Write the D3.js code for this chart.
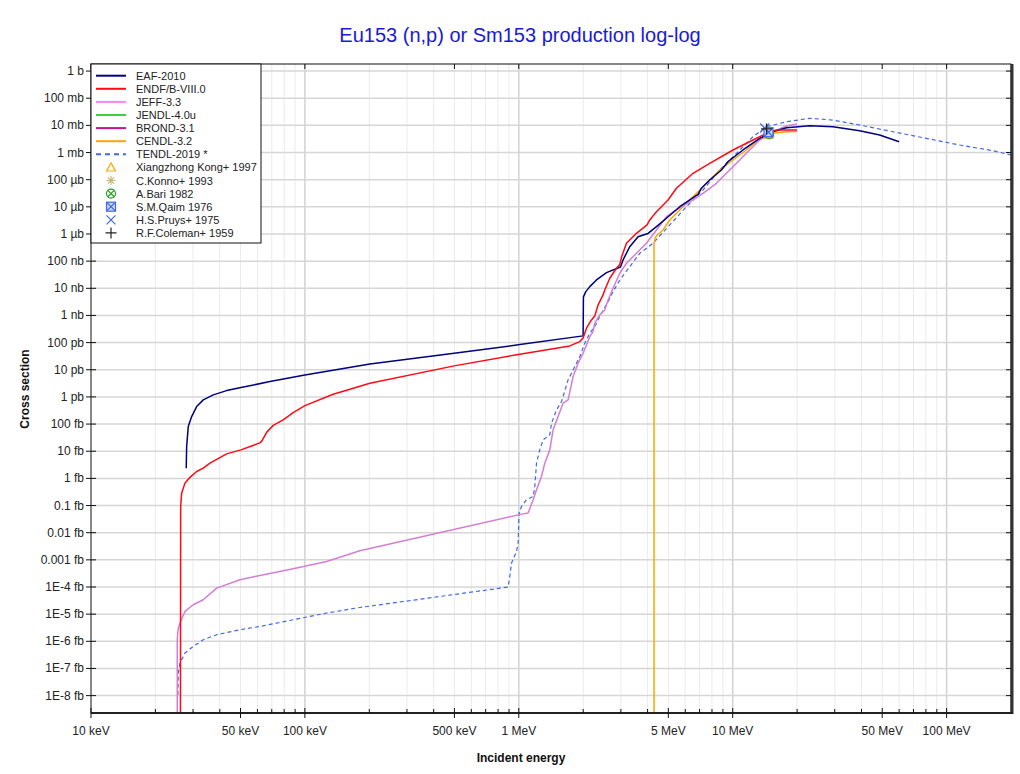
<!DOCTYPE html>
<html><head><meta charset="utf-8">
<script src="https://cdn.jsdelivr.net/npm/d3@7"></script>
<style>body{margin:0;background:#fff;} svg{display:block;font-family:"Liberation Sans",Arial,sans-serif;}</style>
</head><body><svg id="c" width="1020" height="774"></svg>
<script>
// ---- data: [incident energy (MeV), cross section (barn)] ----
const eaf2010 = [[0.02787,2.38e-15],[0.02800,1.49e-14],[0.02849,8.09e-14],[0.02955,1.89e-13],[0.03118,4.41e-13],[0.03348,7.78e-13],[0.03729,1.19e-12],[0.04306,1.71e-12],[0.05022,2.21e-12],[0.06863,3.67e-12],[0.1,6.47e-12],[0.2013,1.64e-11],[0.4985,4.07e-11],[1.011,8.44e-11],[1.998,1.77e-10],[2.005,4.81e-9],[2.057,7.53e-9],[2.147,1.15e-8],[2.307,2.03e-8],[2.570,3.77e-8],[2.987,6.11e-8],[3.072,1.11e-7],[3.302,3.41e-7],[3.610,7.96e-7],[4.020,1.05e-6],[4.401,1.86e-6],[4.900,3.79e-6],[5.653,1.01e-5],[6.884,2.90e-5],[7.140,4.82e-5],[7.807,9.73e-5],[8.855,2.27e-4],[9.507,4.59e-4],[11.17,1.24e-3],[13.37,3.33e-3],[15.43,5.83e-3],[17.82,8.19e-3],[22.90,9.70e-3],[29.42,8.91e-3],[39.22,6.35e-3],[48.63,4.41e-3],[60.0,2.50e-3]];
const endfb80 = [[0.02619,1e-24],[0.02625,9.20e-17],[0.02653,2.86e-16],[0.02749,6.68e-16],[0.02901,1.09e-15],[0.03118,1.79e-15],[0.03348,2.38e-15],[0.03598,3.64e-15],[0.04306,8.00e-15],[0.05022,1.12e-14],[0.06163,2.03e-14],[0.06297,2.41e-14],[0.06622,4.95e-14],[0.07110,8.96e-14],[0.07918,1.43e-13],[0.08816,2.66e-13],[0.1,4.80e-13],[0.1356,1.26e-12],[0.2013,3.21e-12],[0.4985,1.39e-11],[1.011,3.74e-11],[1.731,7.56e-11],[1.928,1.09e-10],[1.998,1.49e-10],[2.072,3.39e-10],[2.186,6.85e-10],[2.265,9.62e-10],[2.348,2.44e-9],[2.477,5.70e-9],[2.523,8.71e-9],[2.662,2.35e-8],[2.861,5.47e-8],[2.965,7.55e-8],[3.029,1.49e-7],[3.186,4.55e-7],[3.548,1.06e-6],[3.977,2.15e-6],[4.094,3.28e-6],[4.401,6.63e-6],[4.985,1.79e-5],[5.455,4.82e-5],[6.524,1.72e-4],[7.807,4.01e-4],[10.03,1.24e-3],[12.44,2.89e-3],[14.37,5.09e-3],[16.00,6.74e-3],[20.0,6.8e-3]];
const jeff33 = [[0.02531,1e-24],[0.02531,1.14e-21],[0.02550,2.67e-21],[0.02605,4.71e-21],[0.02749,1.26e-20],[0.03006,2.22e-20],[0.03348,3.39e-20],[0.03868,9.12e-20],[0.04969,1.85e-19],[0.06163,2.66e-19],[0.08816,4.69e-19],[0.1263,8.71e-19],[0.1807,2.15e-18],[1.029,4.83e-17],[1.106,5.26e-17],[1.167,1.62e-16],[1.210,3.79e-16],[1.276,1.17e-15],[1.323,3.64e-15],[1.396,1.12e-14],[1.447,6.12e-14],[1.526,1.89e-13],[1.611,5.89e-13],[1.700,7.78e-13],[1.794,5.61e-12],[1.893,1.75e-11],[1.998,4.07e-11],[2.147,1.66e-10],[2.224,2.54e-10],[2.265,5.18e-10],[2.391,1.05e-9],[2.523,1.60e-9],[2.615,3.73e-9],[2.759,1.00e-8],[2.965,3.58e-8],[3.186,8.36e-8],[3.548,1.95e-7],[3.951,4.55e-7],[4.401,1.41e-6],[4.900,4.34e-6],[5.455,7.66e-6],[6.524,1.79e-5],[7.264,3.15e-5],[8.388,7.36e-5],[10.03,3.01e-4],[11.59,9.35e-4],[13.37,2.89e-3],[15.43,5.83e-3],[17.82,9.46e-3],[20.0,1.12e-2]];
const tendl2019 = [[0.02550,1.08e-23],[0.02558,6.79e-23],[0.02605,1.58e-22],[0.02749,3.70e-22],[0.03006,6.47e-22],[0.03348,1.14e-21],[0.03868,1.75e-21],[0.04969,2.67e-21],[0.06163,3.52e-21],[0.08816,6.22e-21],[0.1263,1.10e-20],[0.1807,1.76e-20],[0.8913,9.93e-20],[0.9078,2.44e-19],[0.9245,7.60e-19],[0.9757,2.03e-18],[0.9925,4.14e-18],[1.003,5.26e-17],[1.029,9.20e-17],[1.086,1.62e-16],[1.167,2.15e-16],[1.188,5.01e-16],[1.210,3.64e-15],[1.253,1.12e-14],[1.299,2.62e-14],[1.396,4.01e-14],[1.422,1.08e-13],[1.501,3.33e-13],[1.583,6.73e-13],[1.611,1.03e-12],[1.700,4.24e-12],[1.827,1.31e-11],[1.928,3.05e-11],[2.034,9.51e-11],[2.147,2.22e-10],[2.265,3.88e-10],[2.434,1.21e-9],[2.615,3.23e-9],[2.759,7.53e-9],[2.965,2.03e-8],[3.302,6.27e-8],[3.677,1.95e-7],[4.242,4.55e-7],[5.077,2.15e-6],[6.075,1.01e-5],[7.264,4.17e-5],[8.695,2.27e-4],[10.41,9.35e-4],[12.44,3.82e-3],[14.37,8.91e-3],[17.82,1.36e-2],[22.90,1.82e-2],[29.42,1.57e-2],[39.22,1.03e-2],[56.12,5.83e-3],[80.36,3.33e-3],[115.0,1.89e-3],[164.6,1.17e-3],[200.0,8.10e-4]];
const cendl32 = [[4.287,1e-24],[4.287,4.67e-7],[4.345,7.14e-7],[4.401,8.45e-7],[4.724,1.41e-6],[5.077,3.28e-6],[5.653,7.66e-6],[6.767,3.15e-5],[7.537,7.36e-5],[8.695,2.27e-4],[10.03,5.30e-4],[11.59,1.24e-3],[13.37,3.33e-3],[15.43,5.09e-3],[17.82,5.83e-3],[20.0,6.0e-3]];
const jendl40u = [];
const brond31 = [];

// experimental points: [energy MeV, cross section b]
const kong1997 = [[14.7,4.6e-3]];
const konno1993 = [[14.8,5.0e-3]];
const bari1982 = [[14.8,4.8e-3]];
const qaim1976 = [[14.7,5.6e-3]];
const pruys1975 = [[14.1,8.0e-3]];
const coleman1959 = [[14.4,7.4e-3]];

const seriesNames = ["EAF-2010","ENDF/B-VIII.0","JEFF-3.3","JENDL-4.0u","BROND-3.1","CENDL-3.2","TENDL-2019 *"];
const expNames = ["Xiangzhong Kong+ 1997","C.Konno+ 1993","A.Bari 1982","S.M.Qaim 1976","H.S.Pruys+ 1975","R.F.Coleman+ 1959"];

const xTickValues = [0.01,0.05,0.1,0.5,1,5,10,50,100];
const xTickLabels = ["10 keV","50 keV","100 keV","500 keV","1 MeV","5 MeV","10 MeV","50 MeV","100 MeV"];
const yTickValues = d3.range(0,-24,-1).map(p=>Math.pow(10,p));
const yTickLabels = ["1 b","100 mb","10 mb","1 mb","100 µb","10 µb","1 µb","100 nb","10 nb","1 nb","100 pb","10 pb","1 pb","100 fb","10 fb","1 fb","0.1 fb","0.01 fb","0.001 fb","1E-4 fb","1E-5 fb","1E-6 fb","1E-7 fb","1E-8 fb"];

// ---- drawing ----
const svg = d3.select("#c");
const L=91, T=64, R=1011, B=713;
const x = d3.scaleLog().domain([0.01,200]).range([L,R]);
const y = d3.scaleLog().domain([2.29e-24,1.82]).range([B,T]);

svg.append("rect").attr("width",1020).attr("height",774).attr("fill","#fff");

// title
svg.append("text").attr("x",520).attr("y",42).attr("text-anchor","middle")
  .attr("font-size",20).attr("fill","#1a1ad6").text("Eu153 (n,p) or Sm153 production log-log");

// grid
const g = svg.append("g");
const minorX = [];
[0.01,0.1,1,10,100].forEach(d=>{for(let k=2;k<=9;k++){const v=d*k; if(v<200) minorX.push(v);}});
g.selectAll(".gxm").data(minorX).enter().append("line")
  .attr("x1",d=>x(d)).attr("x2",d=>x(d)).attr("y1",T).attr("y2",B)
  .attr("stroke","#ebebeb").attr("stroke-width",1);
g.selectAll(".gxM").data([0.1,1,10,100]).enter().append("line")
  .attr("x1",d=>x(d)).attr("x2",d=>x(d)).attr("y1",T).attr("y2",B)
  .attr("stroke","#d2d2d2").attr("stroke-width",1.5);
g.selectAll(".gy").data(yTickValues).enter().append("line")
  .attr("x1",L).attr("x2",R).attr("y1",d=>y(d)).attr("y2",d=>y(d))
  .attr("stroke","#d6d6d6").attr("stroke-width",1.5);

// curves
svg.append("clipPath").attr("id","clip").append("rect").attr("x",L).attr("y",T).attr("width",R-L).attr("height",B-T);
const line = d3.line().x(d=>x(d[0])).y(d=>y(d[1]));
const cg = svg.append("g").attr("clip-path","url(#clip)");
const curves = [
  {data:jendl40u, color:"#33cc33"},
  {data:brond31, color:"#cc0099"},
  {data:tendl2019, color:"#4169e1", dash:"4,3", w:1.2},
  {data:cendl32, color:"#ffa500"},
  {data:jeff33, color:"#d47ed4"},
  {data:eaf2010, color:"#000080"},
  {data:endfb80, color:"#ff0a14"}
];
curves.forEach(c=>{
  if(!c.data.length) return;
  cg.append("path").datum(c.data).attr("d",line).attr("fill","none")
    .attr("stroke",c.color).attr("stroke-width",c.w||1.5)
    .attr("stroke-dasharray",c.dash||null).attr("stroke-linejoin","round");
});

// marker symbols
function marker(sel, type, cx, cy){
  const s=4.5;
  if(type==="tri"){
    sel.append("path").attr("d",`M${cx},${cy-s}L${cx+s},${cy+s*0.8}L${cx-s},${cy+s*0.8}Z`).attr("fill","none").attr("stroke","#ffa500").attr("stroke-width",1.2);
  } else if(type==="ast"){
    sel.append("path").attr("d",`M${cx-s},${cy}H${cx+s}M${cx},${cy-s}V${cy+s}M${cx-s*0.7},${cy-s*0.7}L${cx+s*0.7},${cy+s*0.7}M${cx-s*0.7},${cy+s*0.7}L${cx+s*0.7},${cy-s*0.7}`).attr("stroke","#c8b878").attr("stroke-width",1.2).attr("fill","none");
  } else if(type==="cx"){
    sel.append("circle").attr("cx",cx).attr("cy",cy).attr("r",s).attr("fill","none").attr("stroke","#22a022").attr("stroke-width",1.2);
    const k=s*0.7;
    sel.append("path").attr("d",`M${cx-k},${cy-k}L${cx+k},${cy+k}M${cx-k},${cy+k}L${cx+k},${cy-k}`).attr("stroke","#22a022").attr("stroke-width",1.2);
  } else if(type==="sx"){
    sel.append("rect").attr("x",cx-s).attr("y",cy-s).attr("width",2*s).attr("height",2*s).attr("fill","#c8d4f8").attr("stroke","#4169e1").attr("stroke-width",1.2);
    sel.append("path").attr("d",`M${cx-s},${cy-s}L${cx+s},${cy+s}M${cx-s},${cy+s}L${cx+s},${cy-s}`).attr("stroke","#4169e1").attr("stroke-width",1.2);
  } else if(type==="x"){
    sel.append("path").attr("d",`M${cx-s},${cy-s}L${cx+s},${cy+s}M${cx-s},${cy+s}L${cx+s},${cy-s}`).attr("stroke","#4169e1").attr("stroke-width",1.2);
  } else if(type==="plus"){
    sel.append("path").attr("d",`M${cx-s-1},${cy}H${cx+s+1}M${cx},${cy-s-1}V${cy+s+1}`).attr("stroke","#222").attr("stroke-width",1.2);
  }
}
const expSets = [
  {data:kong1997,type:"tri"},{data:konno1993,type:"ast"},{data:bari1982,type:"cx"},
  {data:qaim1976,type:"sx"},{data:pruys1975,type:"x"},{data:coleman1959,type:"plus"}
];
const mg = svg.append("g").attr("clip-path","url(#clip)");
expSets.forEach(e=>e.data.forEach(d=>marker(mg,e.type,x(d[0]),y(d[1]))));

// frame
svg.append("rect").attr("x",L).attr("y",T).attr("width",R-L).attr("height",B-T).attr("fill","none").attr("stroke","#111").attr("stroke-width",1);
svg.append("line").attr("x1",R+1).attr("x2",R+1).attr("y1",T).attr("y2",B+1).attr("stroke","#333").attr("stroke-width",3);
svg.append("line").attr("x1",L).attr("x2",R+2).attr("y1",B).attr("y2",B).attr("stroke","#222").attr("stroke-width",2);

// axes ticks
const ax = svg.append("g").attr("stroke","#111").attr("stroke-width",1);
xTickValues.forEach(v=>{
  ax.append("line").attr("x1",x(v)).attr("x2",x(v)).attr("y1",B-5).attr("y2",B+5);
  ax.append("line").attr("x1",x(v)).attr("x2",x(v)).attr("y1",T).attr("y2",T+5);
});
minorX.filter(v=>!xTickValues.includes(v)).forEach(v=>{
  ax.append("line").attr("x1",x(v)).attr("x2",x(v)).attr("y1",B-4).attr("y2",B);
});
yTickValues.forEach(v=>{
  ax.append("line").attr("x1",L-5).attr("x2",L+5).attr("y1",y(v)).attr("y2",y(v));
  ax.append("line").attr("x1",R-5).attr("x2",R).attr("y1",y(v)).attr("y2",y(v));
});

// tick labels
const tl = svg.append("g").attr("font-size",12).attr("fill","#222");
xTickValues.forEach((v,i)=>{
  tl.append("text").attr("x",x(v)).attr("y",735).attr("text-anchor","middle").text(xTickLabels[i]);
});
yTickValues.forEach((v,i)=>{
  tl.append("text").attr("x",84).attr("y",y(v)+4).attr("text-anchor","end").text(yTickLabels[i]);
});

// axis titles
svg.append("text").attr("x",521).attr("y",762).attr("text-anchor","middle").attr("font-size",12).attr("font-weight","bold").attr("fill","#111").text("Incident energy");
svg.append("text").attr("transform","translate(29,389) rotate(-90)").attr("text-anchor","middle").attr("font-size",12).attr("font-weight","bold").attr("fill","#111").text("Cross section");

// legend
const lg = svg.append("g");
lg.append("rect").attr("x",L).attr("y",T).attr("width",170).attr("height",179).attr("fill","#fff").attr("stroke","#111").attr("stroke-width",1);
const legendColors = ["#000080","#ff0a14","#ff80ff","#44cc44","#c71585","#ffa500","#4169e1"];
const ly0 = 75.7, dy = 13.1;
seriesNames.forEach((n,i)=>{
  const yy = ly0+i*dy;
  lg.append("line").attr("x1",96).attr("x2",126).attr("y1",yy).attr("y2",yy)
    .attr("stroke",legendColors[i]).attr("stroke-width",2).attr("stroke-dasharray",i===6?"5,4":null);
  lg.append("text").attr("x",136).attr("y",yy+4).attr("font-size",11).attr("fill","#222").text(n);
});
expSets.forEach((e,j)=>{
  const yy = ly0+(j+7)*dy;
  marker(lg,e.type,111,yy);
  lg.append("text").attr("x",136).attr("y",yy+4).attr("font-size",11).attr("fill","#222").text(expNames[j]);
});
</script></body></html>
